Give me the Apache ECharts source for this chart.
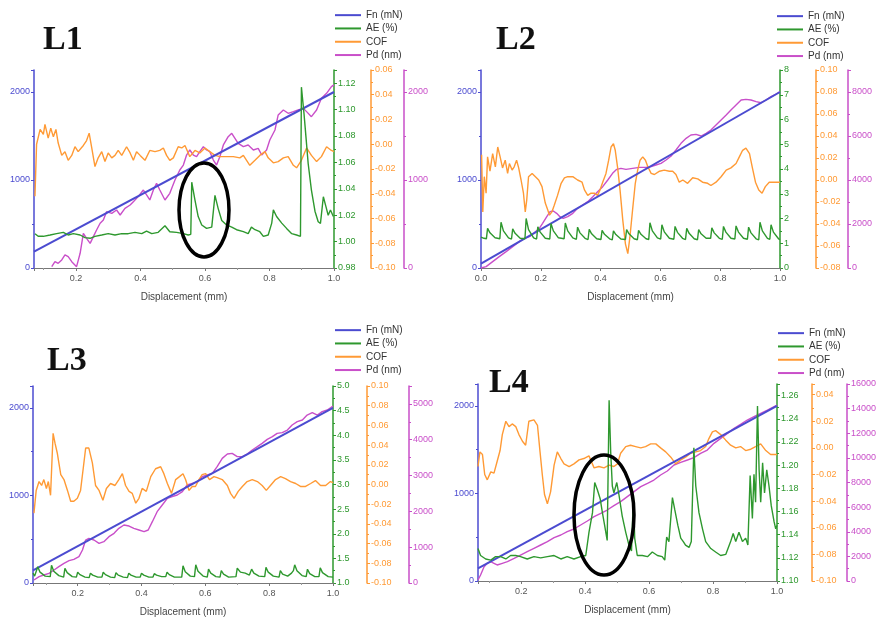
<!DOCTYPE html>
<html>
<head>
<meta charset="utf-8">
<title>Scratch tests L1-L4</title>
<script src="https://cdn.jsdelivr.net/npm/echarts@6/dist/echarts.min.js"></script>
<style>
  html, body { margin: 0; padding: 0; background: #fff; }
  #chart { width: 878px; height: 617px; }
</style>
</head>
<body>
<div id="chart"></div>
<script>
// names
const panelNames = ['L1', 'L2', 'L3', 'L4'];
const seriesNames = ['Fn (mN)', 'AE (%)', 'COF', 'Pd (nm)'];
const xLabel = 'Displacement (mm)';

// ---- L1 : [displacement, value] ----
const fnL1 = [[0.07, 185], [1.0, 2000]];
const aeL1 = [[0.073,1.006],[0.083,1.004],[0.099,1.004],[0.120,1.005],[0.140,1.006],[0.161,1.007],[0.176,1.005],[0.192,1.006],[0.213,1.005],[0.228,1.003],[0.244,1.0025],[0.259,1.004],[0.280,1.005],[0.300,1.006],[0.321,1.005],[0.342,1.006],[0.362,1.006],[0.383,1.007],[0.404,1.006],[0.419,1.008],[0.435,1.006],[0.455,1.007],[0.476,1.012],[0.491,1.0075],[0.512,1.007],[0.533,1.006],[0.548,1.005],[0.556,1.0055],[0.559,1.045],[0.569,1.0315],[0.579,1.019],[0.590,1.0126],[0.605,1.010],[0.621,1.011],[0.626,1.011],[0.631,1.035],[0.641,1.025],[0.652,1.016],[0.667,1.0126],[0.683,1.011],[0.698,1.009],[0.719,1.0075],[0.734,1.006],[0.744,1.011],[0.755,1.009],[0.770,1.0075],[0.781,1.004],[0.796,1.005],[0.807,1.014],[0.812,1.024],[0.822,1.019],[0.838,1.014],[0.853,1.010],[0.869,1.006],[0.884,1.005],[0.896,1.004],[0.899,1.117],[0.907,1.097],[0.913,1.0795],[0.920,1.059],[0.930,1.039],[0.941,1.023],[0.951,1.015],[0.958,1.0138],[0.967,1.034],[0.975,1.0265],[0.982,1.020],[0.989,1.024],[0.998,1.019]];
const cofL1 = [[0.073,-0.042],[0.078,0.000],[0.089,0.012],[0.099,0.008],[0.104,0.016],[0.114,0.005],[0.122,0.013],[0.130,0.006],[0.138,0.012],[0.145,0.001],[0.156,-0.009],[0.166,-0.006],[0.176,-0.013],[0.187,-0.009],[0.197,-0.002],[0.207,-0.006],[0.223,-0.001],[0.233,0.003],[0.241,0.009],[0.249,-0.003],[0.259,-0.018],[0.269,-0.011],[0.280,-0.006],[0.290,-0.014],[0.300,-0.007],[0.311,-0.011],[0.321,-0.009],[0.331,-0.005],[0.342,-0.009],[0.357,-0.002],[0.368,-0.007],[0.378,-0.013],[0.388,-0.006],[0.399,-0.009],[0.414,-0.013],[0.429,-0.005],[0.445,-0.006],[0.460,-0.005],[0.471,-0.003],[0.481,-0.009],[0.491,-0.013],[0.502,-0.011],[0.517,-0.002],[0.528,-0.003],[0.538,-0.001],[0.553,-0.010],[0.569,-0.005],[0.584,-0.007],[0.600,-0.003],[0.615,-0.006],[0.631,-0.009],[0.646,-0.010],[0.667,-0.010],[0.688,-0.010],[0.708,-0.011],[0.719,-0.009],[0.729,-0.013],[0.739,-0.017],[0.755,-0.013],[0.770,-0.009],[0.786,-0.006],[0.796,-0.011],[0.812,-0.015],[0.827,-0.014],[0.843,-0.011],[0.858,-0.010],[0.874,-0.017],[0.884,-0.019],[0.899,-0.013],[0.915,-0.003],[0.930,-0.009],[0.946,-0.014],[0.961,-0.010],[0.977,-0.002],[0.992,-0.005],[1.0,-0.006]];
const pdL1 = [[0.125,15],[0.135,72],[0.145,53],[0.156,91],[0.166,148],[0.176,129],[0.187,72],[0.202,15],[0.213,167],[0.223,394],[0.233,337],[0.244,280],[0.254,356],[0.264,432],[0.275,508],[0.285,545],[0.295,640],[0.311,621],[0.326,659],[0.337,602],[0.352,678],[0.368,716],[0.378,754],[0.393,811],[0.409,886],[0.419,830],[0.429,773],[0.440,886],[0.450,962],[0.460,886],[0.476,773],[0.491,849],[0.507,1000],[0.522,1114],[0.533,1170],[0.543,1284],[0.553,1341],[0.564,1284],[0.574,1265],[0.584,1322],[0.595,1379],[0.605,1341],[0.615,1322],[0.626,1227],[0.636,1170],[0.646,1265],[0.657,1398],[0.672,1492],[0.683,1530],[0.693,1474],[0.703,1417],[0.719,1379],[0.734,1398],[0.750,1341],[0.765,1360],[0.776,1284],[0.791,1341],[0.801,1455],[0.817,1568],[0.827,1739],[0.843,1796],[0.858,1758],[0.874,1777],[0.889,1796],[0.905,1814],[0.915,1777],[0.930,1720],[0.946,1796],[0.961,1928],[0.977,1985],[0.992,2061],[1.0,2080]];

// ---- L2 ----
const fnL2 = [[0.0, 50], [1.0, 2000]];
const aeL2 = [[0.000,1.25],[0.010,1.20],[0.018,1.18],[0.022,1.60],[0.030,1.42],[0.047,1.22],[0.063,1.18],[0.067,1.85],[0.075,1.50],[0.092,1.22],[0.102,1.17],[0.106,1.58],[0.114,1.40],[0.131,1.20],[0.147,1.18],[0.151,2.00],[0.159,1.55],[0.176,1.22],[0.186,1.17],[0.190,1.66],[0.198,1.45],[0.215,1.20],[0.230,1.17],[0.234,1.80],[0.242,1.50],[0.259,1.22],[0.278,1.18],[0.282,1.82],[0.290,1.50],[0.307,1.22],[0.319,1.16],[0.323,1.65],[0.331,1.42],[0.348,1.20],[0.358,1.15],[0.362,1.56],[0.370,1.38],[0.387,1.18],[0.401,1.15],[0.405,1.52],[0.413,1.36],[0.430,1.18],[0.439,1.14],[0.443,1.50],[0.451,1.35],[0.468,1.17],[0.483,1.15],[0.487,1.55],[0.495,1.38],[0.512,1.18],[0.523,1.14],[0.527,1.52],[0.535,1.36],[0.552,1.18],[0.561,1.15],[0.565,1.83],[0.573,1.50],[0.590,1.22],[0.601,1.17],[0.605,1.75],[0.613,1.46],[0.630,1.20],[0.645,1.16],[0.649,1.68],[0.657,1.44],[0.674,1.20],[0.684,1.15],[0.688,1.60],[0.696,1.40],[0.713,1.18],[0.724,1.14],[0.728,1.55],[0.736,1.38],[0.753,1.20],[0.768,1.20],[0.772,1.62],[0.780,1.42],[0.797,1.20],[0.807,1.16],[0.811,1.68],[0.819,1.45],[0.836,1.20],[0.849,1.17],[0.853,1.70],[0.861,1.45],[0.878,1.20],[0.891,1.16],[0.895,1.65],[0.903,1.42],[0.920,1.18],[0.929,1.14],[0.933,1.85],[0.941,1.50],[0.958,1.20],[0.966,1.16],[0.970,1.75],[0.978,1.45],[0.995,1.18],[1.0,1.15]];
const cofL2 = [[0.002,0.023],[0.006,-0.029],[0.011,0.003],[0.017,-0.012],[0.022,0.021],[0.030,0.008],[0.039,0.024],[0.048,0.012],[0.056,0.030],[0.064,0.021],[0.072,0.011],[0.081,0.018],[0.089,0.006],[0.095,0.015],[0.104,0.009],[0.111,0.012],[0.119,0.018],[0.126,0.011],[0.134,0.000],[0.142,-0.012],[0.148,-0.029],[0.153,-0.018],[0.159,0.003],[0.171,0.006],[0.182,0.003],[0.193,0.000],[0.204,-0.006],[0.215,-0.021],[0.223,-0.027],[0.229,-0.032],[0.237,-0.029],[0.245,-0.023],[0.256,-0.014],[0.268,-0.003],[0.279,0.002],[0.290,0.003],[0.307,0.003],[0.323,0.000],[0.338,-0.002],[0.346,-0.009],[0.357,-0.014],[0.368,-0.012],[0.379,-0.012],[0.390,-0.014],[0.398,-0.009],[0.407,-0.002],[0.418,0.006],[0.427,0.018],[0.435,0.030],[0.443,0.033],[0.449,0.027],[0.457,0.011],[0.465,-0.009],[0.474,-0.036],[0.483,-0.058],[0.491,-0.067],[0.498,-0.052],[0.507,-0.027],[0.516,-0.003],[0.524,0.009],[0.532,0.018],[0.541,0.021],[0.550,0.018],[0.558,0.012],[0.569,0.006],[0.580,0.005],[0.597,0.008],[0.613,0.009],[0.630,0.008],[0.641,0.008],[0.652,0.005],[0.663,-0.002],[0.675,0.000],[0.691,-0.003],[0.708,0.002],[0.725,0.001],[0.741,-0.002],[0.758,-0.003],[0.769,-0.005],[0.786,-0.002],[0.803,0.003],[0.820,0.009],[0.836,0.011],[0.853,0.015],[0.864,0.021],[0.875,0.027],[0.886,0.029],[0.898,0.024],[0.907,0.012],[0.918,-0.002],[0.929,-0.009],[0.940,-0.012],[0.951,-0.006],[0.964,-0.002],[0.981,-0.002],[1.0,-0.002]];
const pdL2 = [[0.000,0],[0.006,0],[0.017,61],[0.039,288],[0.061,515],[0.084,742],[0.106,970],[0.128,1197],[0.145,1348],[0.162,1424],[0.178,1606],[0.195,1803],[0.206,2030],[0.220,2333],[0.231,2560],[0.242,2590],[0.253,2485],[0.264,2333],[0.275,2257],[0.290,2333],[0.307,2485],[0.323,2712],[0.340,2863],[0.357,3015],[0.374,3242],[0.390,3469],[0.407,3697],[0.424,4000],[0.440,4303],[0.454,4484],[0.468,4530],[0.485,4484],[0.507,4530],[0.530,4575],[0.552,4575],[0.569,4606],[0.585,4681],[0.602,4757],[0.619,4909],[0.636,5090],[0.652,5363],[0.669,5666],[0.686,5893],[0.702,6045],[0.719,6075],[0.736,6000],[0.753,6121],[0.769,6272],[0.786,6499],[0.803,6727],[0.820,6954],[0.836,7181],[0.853,7408],[0.870,7636],[0.886,7666],[0.903,7636],[0.920,7560],[0.937,7514],[0.953,7636],[0.970,7787],[0.987,7908],[1.0,8014]];

// ---- L3 ----
const fnL3 = [[0.06, 145], [1.0, 2000]];
const aeL3 = [[0.060,1.20],[0.065,1.14],[0.071,1.13],[0.075,1.33],[0.082,1.22],[0.098,1.14],[0.114,1.13],[0.118,1.36],[0.125,1.24],[0.141,1.15],[0.156,1.12],[0.160,1.30],[0.167,1.21],[0.183,1.13],[0.196,1.12],[0.200,1.22],[0.207,1.17],[0.223,1.12],[0.236,1.11],[0.240,1.20],[0.247,1.16],[0.263,1.12],[0.276,1.12],[0.280,1.22],[0.287,1.17],[0.303,1.12],[0.316,1.11],[0.320,1.21],[0.327,1.16],[0.343,1.12],[0.356,1.11],[0.360,1.20],[0.367,1.16],[0.383,1.12],[0.396,1.12],[0.400,1.20],[0.407,1.16],[0.423,1.12],[0.436,1.12],[0.440,1.19],[0.447,1.16],[0.463,1.13],[0.476,1.13],[0.480,1.22],[0.487,1.17],[0.503,1.12],[0.526,1.12],[0.530,1.35],[0.537,1.23],[0.553,1.14],[0.566,1.13],[0.570,1.37],[0.577,1.24],[0.593,1.14],[0.606,1.12],[0.610,1.28],[0.617,1.20],[0.633,1.13],[0.646,1.12],[0.650,1.25],[0.657,1.18],[0.673,1.12],[0.696,1.13],[0.700,1.30],[0.710,1.22],[0.725,1.20],[0.738,1.16],[0.741,1.15],[0.745,1.28],[0.752,1.20],[0.768,1.14],[0.786,1.13],[0.790,1.32],[0.797,1.22],[0.813,1.14],[0.831,1.12],[0.835,1.25],[0.842,1.18],[0.858,1.14],[0.870,1.20],[0.876,1.25],[0.880,1.37],[0.887,1.25],[0.903,1.15],[0.916,1.13],[0.920,1.28],[0.927,1.19],[0.943,1.13],[0.956,1.13],[0.960,1.31],[0.967,1.21],[0.985,1.13],[1.0,1.12]];
const cofL3 = [[0.063,-0.029],[0.070,-0.006],[0.079,0.003],[0.087,-0.001],[0.094,0.005],[0.102,-0.004],[0.108,0.003],[0.115,-0.011],[0.123,0.052],[0.129,0.042],[0.136,0.032],[0.147,0.010],[0.157,0.005],[0.168,-0.006],[0.178,-0.017],[0.188,-0.017],[0.199,-0.014],[0.209,-0.006],[0.218,0.018],[0.225,0.037],[0.235,0.037],[0.246,0.022],[0.256,-0.001],[0.267,-0.006],[0.279,-0.016],[0.290,-0.004],[0.303,0.001],[0.317,-0.001],[0.329,0.005],[0.340,0.011],[0.350,-0.001],[0.361,-0.007],[0.371,-0.009],[0.382,-0.019],[0.392,-0.014],[0.402,-0.004],[0.415,-0.007],[0.429,0.008],[0.444,0.016],[0.460,0.018],[0.470,0.011],[0.481,0.001],[0.494,-0.009],[0.507,0.005],[0.519,0.008],[0.530,0.011],[0.538,0.005],[0.549,-0.006],[0.559,-0.002],[0.569,-0.002],[0.580,0.005],[0.590,0.010],[0.601,0.011],[0.613,0.005],[0.627,0.008],[0.637,0.007],[0.653,0.005],[0.669,-0.001],[0.679,-0.009],[0.690,-0.014],[0.703,-0.007],[0.716,-0.002],[0.731,0.003],[0.747,0.005],[0.763,0.003],[0.778,-0.001],[0.791,-0.006],[0.804,-0.001],[0.820,0.005],[0.836,0.008],[0.851,0.006],[0.867,0.003],[0.883,0.001],[0.898,-0.002],[0.914,-0.002],[0.930,0.001],[0.945,0.004],[0.961,-0.001],[0.977,-0.001],[0.992,0.003],[1.0,0.002]];
const pdL3 = [[0.063,84],[0.079,177],[0.094,223],[0.110,270],[0.126,363],[0.141,456],[0.157,549],[0.173,623],[0.188,661],[0.204,735],[0.215,921],[0.225,1200],[0.235,1247],[0.251,1200],[0.267,1107],[0.282,1154],[0.298,1294],[0.314,1387],[0.329,1526],[0.345,1619],[0.361,1591],[0.376,1526],[0.392,1480],[0.408,1433],[0.421,1480],[0.434,1712],[0.449,1991],[0.465,2178],[0.481,2364],[0.496,2410],[0.512,2457],[0.528,2550],[0.543,2736],[0.559,2783],[0.575,2829],[0.590,2969],[0.606,3015],[0.622,3062],[0.637,3248],[0.653,3480],[0.669,3601],[0.684,3620],[0.700,3527],[0.716,3527],[0.731,3601],[0.747,3713],[0.763,3806],[0.778,3899],[0.794,4011],[0.810,4085],[0.825,4178],[0.841,4197],[0.857,4271],[0.872,4411],[0.888,4504],[0.904,4551],[0.919,4690],[0.935,4755],[0.951,4690],[0.966,4783],[0.982,4830],[1.0,4941]];

// ---- L4 ----
const fnL4 = [[0.065, 145], [1.0, 2000]];
const aeL4 = [[0.065,1.128],[0.073,1.122],[0.089,1.119],[0.105,1.118],[0.120,1.121],[0.136,1.121],[0.152,1.119],[0.167,1.122],[0.183,1.122],[0.198,1.121],[0.219,1.119],[0.240,1.121],[0.261,1.120],[0.282,1.121],[0.303,1.122],[0.324,1.119],[0.344,1.121],[0.365,1.119],[0.386,1.121],[0.402,1.122],[0.412,1.142],[0.423,1.159],[0.430,1.185],[0.438,1.179],[0.447,1.171],[0.454,1.159],[0.461,1.148],[0.469,1.135],[0.475,1.256],[0.480,1.211],[0.485,1.182],[0.490,1.176],[0.499,1.185],[0.506,1.174],[0.516,1.156],[0.527,1.142],[0.537,1.131],[0.545,1.126],[0.551,1.174],[0.555,1.137],[0.563,1.122],[0.579,1.122],[0.595,1.121],[0.610,1.125],[0.626,1.122],[0.641,1.121],[0.649,1.118],[0.655,1.138],[0.662,1.134],[0.673,1.172],[0.680,1.162],[0.690,1.148],[0.699,1.137],[0.707,1.134],[0.714,1.131],[0.725,1.129],[0.732,1.134],[0.740,1.215],[0.746,1.182],[0.756,1.159],[0.767,1.145],[0.777,1.134],[0.793,1.128],[0.808,1.125],[0.824,1.122],[0.840,1.123],[0.855,1.134],[0.863,1.141],[0.871,1.134],[0.881,1.142],[0.892,1.134],[0.902,1.137],[0.909,1.131],[0.916,1.191],[0.923,1.154],[0.928,1.192],[0.933,1.168],[0.939,1.251],[0.944,1.196],[0.949,1.168],[0.955,1.202],[0.961,1.176],[0.968,1.196],[0.975,1.182],[0.982,1.165],[0.991,1.151],[0.996,1.145],[1.0,1.148]];
const cofL4 = [[0.065,-0.014],[0.071,-0.003],[0.079,-0.005],[0.086,-0.020],[0.094,-0.024],[0.105,-0.018],[0.115,-0.019],[0.125,-0.010],[0.134,-0.002],[0.141,0.010],[0.152,0.020],[0.162,0.016],[0.172,0.018],[0.183,0.016],[0.193,0.010],[0.204,0.005],[0.214,0.002],[0.224,0.020],[0.240,0.021],[0.251,0.017],[0.259,-0.003],[0.266,-0.020],[0.273,-0.035],[0.282,-0.042],[0.292,-0.033],[0.303,-0.013],[0.313,-0.003],[0.324,-0.008],[0.334,-0.012],[0.350,-0.014],[0.365,-0.012],[0.381,-0.009],[0.396,-0.008],[0.412,-0.006],[0.428,-0.015],[0.443,-0.014],[0.459,-0.015],[0.475,-0.013],[0.490,-0.014],[0.501,-0.012],[0.511,-0.004],[0.527,0.001],[0.542,0.002],[0.558,0.001],[0.574,0.000],[0.589,0.001],[0.605,0.003],[0.621,0.003],[0.636,0.000],[0.652,-0.003],[0.668,-0.007],[0.683,-0.012],[0.699,-0.009],[0.714,-0.007],[0.730,-0.004],[0.746,-0.003],[0.761,-0.002],[0.777,0.001],[0.787,0.007],[0.798,0.012],[0.808,0.013],[0.824,0.010],[0.839,0.006],[0.855,0.002],[0.871,0.000],[0.886,0.001],[0.902,-0.002],[0.918,-0.001],[0.933,0.001],[0.949,0.003],[0.965,-0.002],[0.980,-0.005],[1.0,-0.005]];
const pdL4 = [[0.065,81],[0.073,487],[0.084,1164],[0.094,1435],[0.105,1570],[0.115,1435],[0.125,1300],[0.141,1435],[0.157,1570],[0.178,1841],[0.198,2111],[0.219,2382],[0.240,2653],[0.261,2924],[0.282,3194],[0.303,3519],[0.324,3736],[0.344,4006],[0.365,4223],[0.386,4548],[0.407,4873],[0.428,5225],[0.449,5495],[0.469,5766],[0.490,6118],[0.511,6443],[0.532,6849],[0.553,7255],[0.574,7661],[0.595,7932],[0.615,8202],[0.636,8608],[0.657,8933],[0.678,9420],[0.699,9637],[0.720,9826],[0.740,10016],[0.761,10368],[0.782,10638],[0.803,11180],[0.824,11586],[0.845,11992],[0.866,12398],[0.886,12723],[0.907,13075],[0.928,13346],[0.949,13616],[0.970,13887],[1.0,14293]];

// circled regions: [displacement, Fn]
const circleL1 = [0.597, 660];
const circleL4 = [0.459, 754];

const colors = ['#4b4bd0', '#2e982e', '#ff9a35', '#c94fc9'];
const panelData = [
  [fnL1, aeL1, cofL1, pdL1],
  [fnL2, aeL2, cofL2, pdL2],
  [fnL3, aeL3, cofL3, pdL3],
  [fnL4, aeL4, cofL4, pdL4]
];

// per panel: axis ranges (min, max, interval, decimals, last labelled tick)
const axisRanges = [
  [ {min:0, max:2250, interval:1000, dec:0, top:2000},
    {min:0.98, max:1.13, interval:0.02, dec:2, top:1.12},
    {min:-0.10, max:0.06, interval:0.02, dec:2, top:0.06},
    {min:0, max:2250, interval:1000, dec:0, top:2000} ],
  [ {min:0, max:2250, interval:1000, dec:0, top:2000},
    {min:0, max:8, interval:1, dec:0, top:8},
    {min:-0.08, max:0.10, interval:0.02, dec:2, top:0.10},
    {min:0, max:9000, interval:2000, dec:0, top:8000} ],
  [ {min:0, max:2250, interval:1000, dec:0, top:2000},
    {min:1, max:5, interval:0.5, dec:1, top:5},
    {min:-0.10, max:0.10, interval:0.02, dec:2, top:0.10},
    {min:0, max:5500, interval:1000, dec:0, top:5000} ],
  [ {min:0, max:2250, interval:1000, dec:0, top:2000},
    {min:1.10, max:1.27, interval:0.02, dec:2, top:1.26},
    {min:-0.10, max:0.048, interval:0.02, dec:2, top:0.04},
    {min:0, max:16000, interval:2000, dec:0, top:16000} ]
];

const layouts = [
  { grid: {left: 34, top: 70, width: 300, height: 198}, xMin: 0.07, offsets: [0, 37, 70], title: [43, 23], legend: [335, 9] },
  { grid: {left: 481, top: 70, width: 299, height: 198}, xMin: 0.0, offsets: [0, 36, 68], title: [496, 23], legend: [777, 10] },
  { grid: {left: 33, top: 386, width: 300, height: 197}, xMin: 0.06, offsets: [0, 34, 76], title: [47, 344], legend: [335, 324] },
  { grid: {left: 478, top: 384, width: 299, height: 197}, xMin: 0.065, offsets: [0, 35, 70], title: [489, 366], legend: [778, 327] }
];

const font = '"Liberation Sans", Arial, sans-serif';

function makeYAxis(gi, k, r, offset) {
  return {
    type: 'value', gridIndex: gi,
    position: k === 0 ? 'left' : 'right', offset: offset,
    min: r.min, max: r.max, interval: r.interval,
    axisLine: { show: true, onZero: false, lineStyle: { color: colors[k], width: 1.5 } },
    axisTick: { show: true, length: 3, lineStyle: { color: colors[k] } },
    minorTick: { show: true, splitNumber: 2, length: 2, lineStyle: { color: colors[k] } },
    splitLine: { show: false },
    axisLabel: {
      color: colors[k], fontSize: 9, fontFamily: font, margin: 4,
      formatter: v => (v > r.top + 1e-9 ? '' : v.toFixed(r.dec))
    }
  };
}

const grids = [], xAxes = [], yAxes = [], series = [], legends = [];
layouts.forEach((lay, i) => {
  grids.push(Object.assign({ outerBoundsMode: 'none' }, lay.grid));
  xAxes.push({
    type: 'value', gridIndex: i, min: lay.xMin, max: 1.0, splitNumber: 5,
    axisLine: { onZero: false, lineStyle: { color: '#777', width: 1 } },
    axisTick: { length: 3, lineStyle: { color: '#777' } },
    minorTick: { show: true, splitNumber: 2, length: 2, lineStyle: { color: '#999' } },
    splitLine: { show: false },
    axisLabel: {
      fontSize: 9, color: '#555', fontFamily: font, margin: 6,
      formatter: v => (Math.abs(v * 5 - Math.round(v * 5)) < 1e-6 ? v.toFixed(1) : '')
    },
    name: xLabel, nameLocation: 'middle', nameGap: 24,
    nameTextStyle: { fontSize: 10, color: '#444', fontFamily: font }
  });
  axisRanges[i].forEach((r, k) => {
    yAxes.push(makeYAxis(i, k, r, k === 0 ? 0 : lay.offsets[k - 1]));
  });
  // draw order: Pd, COF, Fn, AE
  [3, 2, 0, 1].forEach((k, n) => {
    series.push({
      type: 'line', name: seriesNames[k],
      xAxisIndex: i, yAxisIndex: i * 4 + k,
      data: panelData[i][k],
      symbol: 'none', z: 2 + n,
      lineStyle: { color: colors[k], width: k === 0 ? 2 : 1.4 },
      itemStyle: { color: colors[k] }
    });
  });
  legends.push({
    orient: 'vertical', left: lay.legend[0], top: lay.legend[1],
    padding: 0,
    data: seriesNames, icon: 'rect', itemWidth: 26, itemHeight: 2, itemGap: 1,
    selectedMode: false,
    textStyle: { fontSize: 10, color: '#333', fontFamily: font, lineHeight: 12.3 }
  });
});

const chart = echarts.init(document.getElementById('chart'));
chart.setOption({
  animation: false,
  backgroundColor: '#fff',
  grid: grids, xAxis: xAxes, yAxis: yAxes, legend: legends, series: series
});

// panel titles and the circled regions
const graphics = layouts.map((lay, i) => ({
  type: 'text', left: lay.title[0], top: lay.title[1],
  style: { text: panelNames[i], font: 'bold 34px "Liberation Serif", "Times New Roman", serif', fill: '#111' }
}));
[[0, circleL1, 25, 47], [3, circleL4, 30, 60]].forEach(([gi, pt, rx, ry]) => {
  const p = chart.convertToPixel({ xAxisIndex: gi, yAxisIndex: gi * 4 }, pt);
  graphics.push({
    type: 'ellipse', shape: { cx: p[0], cy: p[1], rx: rx, ry: ry },
    style: { fill: 'none', stroke: '#000', lineWidth: 3.5 }, z: 100
  });
});
chart.setOption({ graphic: graphics });
</script>
</body>
</html>
